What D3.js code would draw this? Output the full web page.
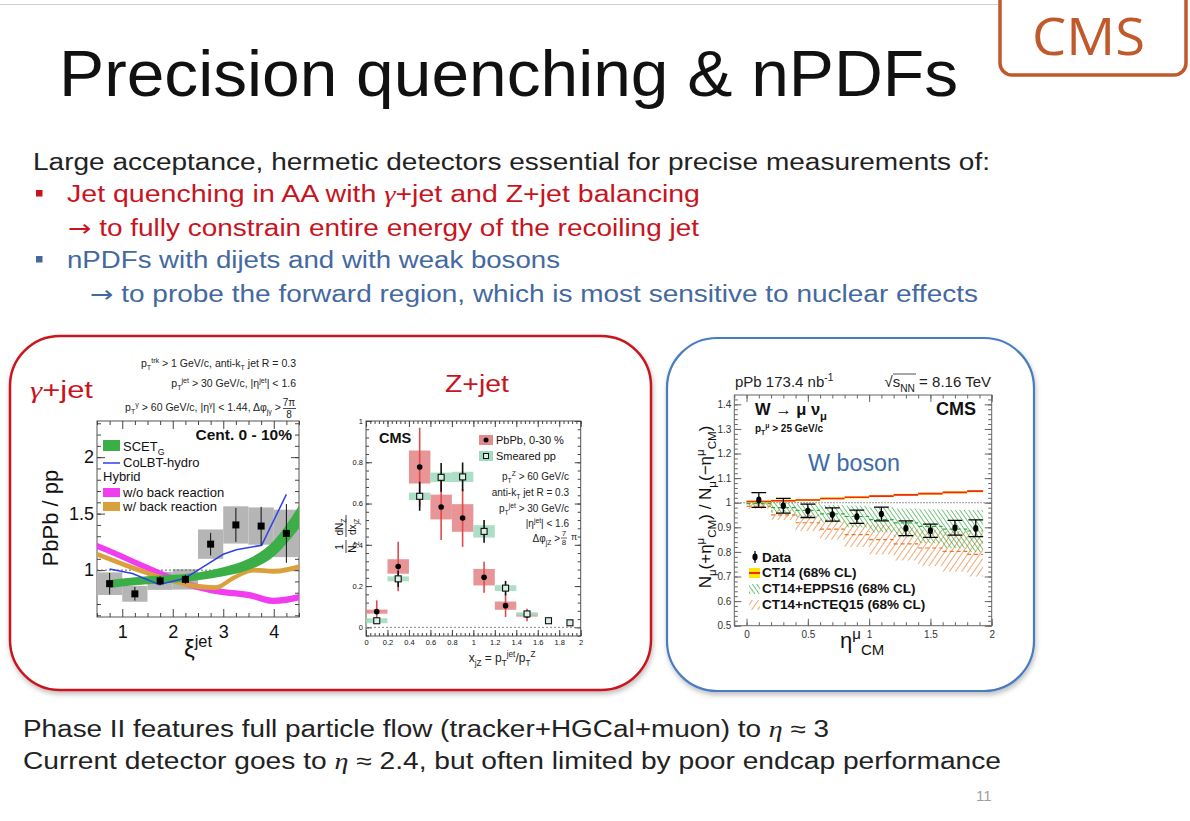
<!DOCTYPE html>
<html>
<head>
<meta charset="utf-8">
<script src="https://cdn.jsdelivr.net/npm/d3@7"></script>
<style>
  body { margin: 0; background: #fff; }
  svg { display: block; }
</style>
</head>
<body>
<div id="chart"></div>
<script>
// --- γ+jet : PbPb/pp vs ξ^jet (Cent. 0-10%)
const gjXi = [0.75, 1.25, 1.75, 2.25, 2.75, 3.25, 3.75, 4.25]
const gjRatio = [0.88, 0.79, 0.905, 0.918, 1.23, 1.40, 1.39, 1.325]
const gjStat = [0.095, 0.06, 0.04, 0.04, 0.10, 0.15, 0.17, 0.26]
const gjSyst = [0.10, 0.07, 0.08, 0.09, 0.13, 0.165, 0.165, 0.21]
const scetXi = [0.75, 1.0, 1.5, 2.0, 2.5, 3.0, 3.5, 4.0, 4.5]
const scetMid = [0.875, 0.89, 0.91, 0.923, 0.945, 0.985, 1.05, 1.19, 1.47]
const scetHalf = [0.035, 0.035, 0.035, 0.035, 0.035, 0.04, 0.05, 0.07, 0.1]
const colbtXi = [0.75, 1.2, 1.73, 2.23, 2.5, 3.0, 3.26, 3.76, 4.25]
const colbtVal = [1.01, 0.97, 0.873, 0.926, 1.0, 1.14, 1.18, 1.22, 1.67]
const hybNoXi = [0.5, 1.0, 1.5, 2.0, 2.5, 3.0, 3.5, 4.0, 4.5]
const hybNoVal = [1.215, 1.12, 1.02, 0.925, 0.85, 0.805, 0.78, 0.728, 0.76]
const hybBrXi = [0.5, 1.0, 1.5, 2.0, 2.5, 2.85, 3.2, 3.6, 4.0, 4.5]
const hybBrVal = [1.14, 1.055, 0.975, 0.905, 0.855, 0.845, 0.93, 1.0, 0.99, 1.03]

// --- Z+jet : 1/N_Z dN/dx_jZ
const zjX = [0.1, 0.3, 0.5, 0.7, 0.9, 1.1, 1.3, 1.5]
const zjPbPb = [0.076, 0.295, 0.777, 0.583, 0.53, 0.243, 0.105, 0.06]
const zjPbPbStat = [0.055, 0.12, 0.19, 0.16, 0.14, 0.075, 0.055, 0.03]
const zjPbPbSyst = [0.01, 0.035, 0.08, 0.06, 0.067, 0.04, 0.02, 0.008]
const zjPpX = [0.1, 0.3, 0.5, 0.7, 0.9, 1.1, 1.3, 1.5, 1.7, 1.9]
const zjPp = [0.032, 0.235, 0.635, 0.727, 0.729, 0.465, 0.19, 0.065, 0.032, 0.022]
const zjPpStat = [0.01, 0.04, 0.07, 0.07, 0.07, 0.055, 0.035, 0.015, 0, 0]
const zjPpSyst = [0.012, 0.012, 0.018, 0.023, 0.025, 0.03, 0.014, 0.008, 0, 0]

// --- W boson : forward/backward ratio vs η_CM
const wEta = [0.1, 0.3, 0.5, 0.7, 0.9, 1.1, 1.3, 1.5, 1.7, 1.87]
const wRatio = [1.011, 0.988, 0.967, 0.952, 0.943, 0.954, 0.896, 0.886, 0.898, 0.896]
const wErr = [0.03, 0.03, 0.027, 0.027, 0.027, 0.028, 0.03, 0.027, 0.03, 0.034]
const wEdges = [0, 0.2, 0.4, 0.6, 0.8, 1.0, 1.2, 1.4, 1.6, 1.8, 1.93]
const ct14 = [1.005, 1.008, 1.011, 1.017, 1.022, 1.027, 1.032, 1.037, 1.042, 1.047]
const eppsHi = [1.004, 1.0, 0.997, 0.99, 0.988, 0.982, 0.976, 0.973, 0.971, 0.97]
const eppsLo = [0.988, 0.96, 0.94, 0.92, 0.90, 0.88, 0.86, 0.835, 0.815, 0.80]
const nctHi = [0.995, 0.972, 0.952, 0.935, 0.92, 0.91, 0.90, 0.89, 0.885, 0.88]
const nctLo = [0.975, 0.93, 0.885, 0.85, 0.82, 0.79, 0.765, 0.742, 0.72, 0.70]

const FONT = "'Liberation Sans', Arial, Helvetica, sans-serif"
const SERIF = "'Liberation Serif', 'DejaVu Serif', serif"
const RED = "#c8141e", BLUE = "#44699f"

const svg = d3.select("#chart").append("svg")
  .attr("width", 1190).attr("height", 821)
  .attr("font-family", FONT)
  .style("background", "#fff")

const defs = svg.append("defs")
const shadow = defs.append("filter").attr("id", "shadow").attr("x", "-5%").attr("y", "-5%").attr("width", "110%").attr("height", "112%")
shadow.append("feDropShadow").attr("dx", 1).attr("dy", 3).attr("stdDeviation", 2.5).attr("flood-color", "#000").attr("flood-opacity", 0.25)

function hatch(id, color, angle, gap) {
  defs.append("pattern").attr("id", id)
    .attr("patternUnits", "userSpaceOnUse").attr("width", gap).attr("height", gap)
    .attr("patternTransform", `rotate(${angle})`)
    .append("line").attr("x1", 0).attr("y1", 0).attr("x2", 0).attr("y2", gap)
    .attr("stroke", color).attr("stroke-width", 1.3)
}
hatch("hatchG", "#2fa83a", -35, 3.6)
hatch("hatchO", "#e8782a", 35, 5)

// texte avec indices / exposants
function rich(sel, parts, fs) {
  let cur = 0
  for (const p of parts) {
    const [s, k] = Array.isArray(p) ? p : [p, ""]
    const off = k === "sup" ? -0.42 * fs : k === "sub" ? 0.3 * fs : 0
    const small = k === "sup" || k === "sub"
    const t = sel.append("tspan").attr("dy", off - cur).attr("font-size", small ? fs * 0.68 : fs).text(s)
    if (k === "it") t.attr("font-family", SERIF).attr("font-style", "italic")
    if (k === "arrow") t.attr("font-family", "'DejaVu Sans', sans-serif")
    cur = off
  }
  return sel
}

function label(parent, x, y, fs, opts = {}) {
  return parent.append("text").attr("x", x).attr("y", y)
    .attr("font-size", fs)
    .attr("fill", opts.fill || "#111")
    .attr("font-weight", opts.bold ? 700 : 400)
    .attr("text-anchor", opts.anchor || "start")
}

// ----- Slide frame -----
svg.append("line").attr("x1", 0).attr("x2", 1057).attr("y1", 4.5).attr("y2", 4.5)
  .attr("stroke", "#cfcfcf").attr("stroke-width", 1)

svg.append("rect").attr("x", 1000).attr("y", -20).attr("width", 186).attr("height", 95).attr("rx", 12)
  .attr("fill", "#fff").attr("stroke", "#c05a2c").attr("stroke-width", 3.5)
svg.append("text").attr("x", 1032).attr("y", 55).attr("font-size", 52)
  .attr("font-family", "'Open Sans', 'Noto Sans', sans-serif")
  .attr("fill", "#c05a2c").attr("textLength", 113).attr("lengthAdjust", "spacingAndGlyphs").text("CMS")

svg.append("text").attr("x", 59).attr("y", 96).attr("font-size", 65).attr("fill", "#111")
  .attr("font-weight", 300).attr("textLength", 899).attr("lengthAdjust", "spacingAndGlyphs")
  .text("Precision quenching & nPDFs")

function slideLine(x, y, len, color, parts) {
  const t = svg.append("text").attr("x", x).attr("y", y).attr("font-size", 23).attr("fill", color)
    .attr("textLength", len).attr("lengthAdjust", "spacingAndGlyphs")
  rich(t, parts, 23)
}
slideLine(33, 170, 957, "#222", ["Large acceptance, hermetic detectors essential for precise measurements of:"])
svg.append("rect").attr("x", 36).attr("y", 190).attr("width", 6.5).attr("height", 6.5).attr("fill", RED)
slideLine(67, 202, 633, RED, ["Jet quenching in AA with ", ["γ", "it"], "+jet and Z+jet balancing"])
slideLine(68, 236, 631, RED, [["→", "arrow"], " to fully constrain entire energy of the recoiling jet"])
svg.append("rect").attr("x", 36).attr("y", 256).attr("width", 6.5).attr("height", 6.5).attr("fill", BLUE)
slideLine(67, 268, 493, BLUE, ["nPDFs with dijets and with weak bosons"])
slideLine(90, 302, 888, BLUE, [["→", "arrow"], " to probe the forward region, which is most sensitive to nuclear effects"])

slideLine(23, 737, 806, "#222", ["Phase II features full particle flow (tracker+HGCal+muon) to ", ["η", "it"], " ≈ 3"])
slideLine(23, 769, 978, "#222", ["Current detector goes to ", ["η", "it"], " ≈ 2.4, but often limited by poor endcap performance"])
svg.append("text").attr("x", 976).attr("y", 801).attr("font-size", 15).attr("fill", "#a0a0a0").text("11")

// panels
svg.append("rect").attr("x", 10).attr("y", 336).attr("width", 641).attr("height", 354).attr("rx", 50)
  .attr("fill", "#fff").attr("stroke", "#c8161d").attr("stroke-width", 2.5).attr("filter", "url(#shadow)")
svg.append("rect").attr("x", 667).attr("y", 338).attr("width", 367).attr("height", 353).attr("rx", 50)
  .attr("fill", "#fff").attr("stroke", "#4a7cc0").attr("stroke-width", 2.2).attr("filter", "url(#shadow)")

// ----- generic ROOT-like frame with inward ticks -----
function frame(x, y, o) {
  const [xl, xr] = x.range(), [yb, yt] = y.range()
  const g = svg.append("g")
  g.append("rect").attr("x", xl).attr("y", yt).attr("width", xr - xl).attr("height", yb - yt)
    .attr("fill", "#fff").attr("stroke", o.frameColor || "#444").attr("stroke-width", 1)
  const styleAx = (s) => s.attr("color", o.tickColor || "#444").attr("font-family", FONT)
    .attr("font-size", o.fs).call((a) => a.select(".domain").remove())
    .call((a) => a.selectAll("text").attr("fill", o.labelColor || "#111"))
  const sides = [
    [d3.axisBottom, yb, true], [d3.axisTop, yt, false],
  ]
  for (const [fn, pos, lab] of sides) {
    g.append("g").attr("transform", `translate(0,${pos})`)
      .call(fn(x).tickValues(o.xMajor).tickSizeInner(-o.major).tickSizeOuter(0).tickPadding(o.padX).tickFormat(lab ? o.xFmt : ""))
      .call(styleAx)
    g.append("g").attr("transform", `translate(0,${pos})`)
      .call(fn(x).tickValues(o.xMinor).tickSizeInner(-o.minor).tickSizeOuter(0).tickFormat(""))
      .call(styleAx)
  }
  for (const [fn, pos, lab] of [[d3.axisLeft, xl, true], [d3.axisRight, xr, false]]) {
    g.append("g").attr("transform", `translate(${pos},0)`)
      .call(fn(y).tickValues(o.yMajor).tickSizeInner(-o.major).tickSizeOuter(0).tickPadding(o.padY).tickFormat(lab ? o.yFmt : ""))
      .call(styleAx)
    g.append("g").attr("transform", `translate(${pos},0)`)
      .call(fn(y).tickValues(o.yMinor).tickSizeInner(-o.minor).tickSizeOuter(0).tickFormat(""))
      .call(styleAx)
  }
  return g
}

function clipped(id, x, y) {
  const [xl, xr] = x.range(), [yb, yt] = y.range()
  defs.append("clipPath").attr("id", id).append("rect")
    .attr("x", xl).attr("y", yt).attr("width", xr - xl).attr("height", yb - yt)
  return svg.append("g").attr("clip-path", `url(#${id})`)
}

const steps = (a, b, s) => d3.range(a, b + s / 2, s).map((v) => +v.toFixed(4))

// ================= γ+jet =================
const gx = d3.scaleLinear().domain([0.5, 4.5]).range([97, 299])
const gy = d3.scaleLinear().domain([0.585, 2.32]).range([617, 421])

frame(gx, gy, {
  xMajor: [1, 2, 3, 4], xMinor: steps(0.5, 4.5, 0.25).filter((v) => v % 1 !== 0),
  yMajor: [1, 1.5, 2], yMinor: steps(0.6, 2.3, 0.1),
  fs: 18, major: 8, minor: 4, padX: 8, padY: 3,
  xFmt: d3.format("d"), yFmt: (d) => String(d), frameColor: "#555",
})

const gPlot = clipped("clipG", gx, gy)
gPlot.selectAll("rect.syst").data(gjXi).join("rect")
  .attr("x", (d) => gx(d - 0.25)).attr("width", gx(0.75) - gx(0.25))
  .attr("y", (d, i) => gy(gjRatio[i] + gjSyst[i]))
  .attr("height", (d, i) => gy(gjRatio[i] - gjSyst[i]) - gy(gjRatio[i] + gjSyst[i]))
  .attr("fill", "#b5b5b5")
gPlot.append("line").attr("x1", gx(0.5)).attr("x2", gx(4.5)).attr("y1", gy(1)).attr("y2", gy(1))
  .attr("stroke", "#666").attr("stroke-dasharray", "2,2")

const band = (xs, ys, half, sx, sy) => d3.area()
  .x((d, i) => sx(xs[i])).y0((d, i) => sy(ys[i] - half(i))).y1((d, i) => sy(ys[i] + half(i)))
  .curve(d3.curveMonotoneX)(xs)

gPlot.append("path").attr("d", band(hybNoXi, hybNoVal, () => 0.028, gx, gy)).attr("fill", "#f23cf0")
gPlot.append("path").attr("d", band(hybBrXi, hybBrVal, () => 0.022, gx, gy)).attr("fill", "#d9a03c")
gPlot.append("path").attr("d", band(scetXi, scetMid, (i) => scetHalf[i], gx, gy)).attr("fill", "#3cae48")
gPlot.append("path")
  .attr("d", d3.line().x((d, i) => gx(colbtXi[i])).y((d) => gy(d))(colbtVal))
  .attr("fill", "none").attr("stroke", "#3140e8").attr("stroke-width", 1.5)

gPlot.selectAll("line.err").data(gjXi).join("line")
  .attr("x1", (d) => gx(d)).attr("x2", (d) => gx(d))
  .attr("y1", (d, i) => gy(gjRatio[i] + gjStat[i])).attr("y2", (d, i) => gy(gjRatio[i] - gjStat[i]))
  .attr("stroke", "#111").attr("stroke-width", 1)
gPlot.selectAll("rect.pt").data(gjXi).join("rect")
  .attr("x", (d) => gx(d) - 3.5).attr("y", (d, i) => gy(gjRatio[i]) - 3.5)
  .attr("width", 7).attr("height", 7).attr("fill", "#000")

// axis titles
label(svg, 0, 0, 22).attr("transform", "translate(58,518) rotate(-90)").attr("text-anchor", "middle").text("PbPb / pp")
rich(label(svg, 184, 657, 24), ["ξ", ["jet", "sup"]], 24)

// header
rich(label(svg, 296, 367, 10.5, { anchor: "end", fill: "#222" }),
  ["p", ["T", "sub"], ["trk", "sup"], " > 1 GeV/c, anti-k", ["T", "sub"], " jet R = 0.3"], 10.5)
rich(label(svg, 296, 387, 10.5, { anchor: "end", fill: "#222" }),
  ["p", ["T", "sub"], ["jet", "sup"], " > 30 GeV/c, |η", ["jet", "sup"], "| < 1.6"], 10.5)
rich(label(svg, 281, 411, 10.5, { anchor: "end", fill: "#222" }),
  ["p", ["T", "sub"], ["γ", "sup"], " > 60 GeV/c, |η", ["γ", "sup"], "| < 1.44, Δφ", ["jγ", "sub"], " >"], 10.5)
label(svg, 289, 406, 10, { anchor: "middle", fill: "#222" }).text("7π")
svg.append("line").attr("x1", 283).attr("x2", 296).attr("y1", 408.5).attr("y2", 408.5).attr("stroke", "#222").attr("stroke-width", 0.8)
label(svg, 289, 418, 10, { anchor: "middle", fill: "#222" }).text("8")

rich(label(svg, 30, 398, 23, { fill: RED }).attr("textLength", 63).attr("lengthAdjust", "spacingAndGlyphs"),
  [["γ", "it"], "+jet"], 23)
label(svg, 292, 440, 15.5, { anchor: "end", bold: true }).text("Cent. 0 - 10%")

// legend
svg.append("rect").attr("x", 103).attr("y", 440).attr("width", 17).attr("height", 11).attr("fill", "#3cae48")
rich(label(svg, 123, 451, 13), ["SCET", ["G", "sub"]], 13)
svg.append("line").attr("x1", 103).attr("x2", 120).attr("y1", 463).attr("y2", 463).attr("stroke", "#3140e8").attr("stroke-width", 1.5)
label(svg, 123, 467, 13).text("CoLBT-hydro")
label(svg, 103, 481, 13).text("Hybrid")
svg.append("rect").attr("x", 103).attr("y", 488).attr("width", 17).attr("height", 9).attr("fill", "#f23cf0")
label(svg, 123, 497, 13).text("w/o back reaction")
svg.append("rect").attr("x", 103).attr("y", 502).attr("width", 17).attr("height", 9).attr("fill", "#d9a03c")
label(svg, 123, 511, 13).text("w/ back reaction")

// ================= Z+jet =================
const zx = d3.scaleLinear().domain([0, 2]).range([366, 580.7])
const zy = d3.scaleLinear().domain([-0.042, 1.0]).range([636, 421])

frame(zx, zy, {
  xMajor: steps(0, 2, 0.2), xMinor: steps(0, 2, 0.04),
  yMajor: steps(0, 1, 0.2), yMinor: steps(-0.04, 1, 0.04),
  fs: 7.5, major: 6, minor: 3, padX: 4, padY: 3,
  xFmt: (d) => String(d), yFmt: (d) => String(d), frameColor: "#555",
})
const zPlot = clipped("clipZ", zx, zy)
zPlot.append("line").attr("x1", zx(0)).attr("x2", zx(2)).attr("y1", zy(0)).attr("y2", zy(0))
  .attr("stroke", "#888").attr("stroke-dasharray", "2,2")
zPlot.selectAll("rect.pb").data(zjX).join("rect")
  .attr("x", (d) => zx(d - 0.1)).attr("width", zx(0.2) - zx(0))
  .attr("y", (d, i) => zy(zjPbPb[i] + zjPbPbSyst[i]))
  .attr("height", (d, i) => zy(zjPbPb[i] - zjPbPbSyst[i]) - zy(zjPbPb[i] + zjPbPbSyst[i]))
  .attr("fill", "#e58a8c").attr("opacity", 0.9)
zPlot.selectAll("rect.pp").data(zjPpX).join("rect")
  .attr("x", (d) => zx(d - 0.1)).attr("width", zx(0.2) - zx(0))
  .attr("y", (d, i) => zy(zjPp[i] + zjPpSyst[i]))
  .attr("height", (d, i) => zy(zjPp[i] - zjPpSyst[i]) - zy(zjPp[i] + zjPpSyst[i]))
  .attr("fill", "#a3dbc0").attr("opacity", 0.9)
zPlot.selectAll("line.pberr").data(zjX).join("line")
  .attr("x1", (d) => zx(d)).attr("x2", (d) => zx(d))
  .attr("y1", (d, i) => zy(zjPbPb[i] + zjPbPbStat[i])).attr("y2", (d, i) => zy(zjPbPb[i] - zjPbPbStat[i]))
  .attr("stroke", "#e04a4c").attr("stroke-width", 1.6)
zPlot.selectAll("line.pperr").data(zjPpX).join("line")
  .attr("x1", (d) => zx(d)).attr("x2", (d) => zx(d))
  .attr("y1", (d, i) => zy(zjPp[i] + zjPpStat[i])).attr("y2", (d, i) => zy(zjPp[i] - zjPpStat[i]))
  .attr("stroke", "#111").attr("stroke-width", 1.6)
zPlot.selectAll("circle.pb").data(zjX).join("circle")
  .attr("cx", (d) => zx(d)).attr("cy", (d, i) => zy(zjPbPb[i])).attr("r", 2.8).attr("fill", "#000")
zPlot.selectAll("rect.ppm").data(zjPpX).join("rect")
  .attr("x", (d) => zx(d) - 3).attr("y", (d, i) => zy(zjPp[i]) - 3).attr("width", 6).attr("height", 6)
  .attr("fill", "#d9f0e4").attr("stroke", "#111").attr("stroke-width", 1.1)

label(svg, 379, 443, 14.5, { bold: true }).text("CMS")
svg.append("rect").attr("x", 479).attr("y", 435).attr("width", 14).attr("height", 10).attr("fill", "#e58a8c")
svg.append("circle").attr("cx", 486).attr("cy", 440).attr("r", 2.5).attr("fill", "#000")
label(svg, 496, 444, 11).text("PbPb, 0-30 %")
svg.append("rect").attr("x", 479).attr("y", 451).attr("width", 14).attr("height", 10).attr("fill", "#a3dbc0")
svg.append("rect").attr("x", 483.5).attr("y", 453.5).attr("width", 5).attr("height", 5).attr("fill", "#d9f0e4").attr("stroke", "#111")
label(svg, 496, 460, 11).text("Smeared pp")

rich(label(svg, 569, 480, 10, { anchor: "end", fill: "#222" }), ["p", ["T", "sub"], ["Z", "sup"], " > 60 GeV/c"], 10)
rich(label(svg, 569, 496, 10, { anchor: "end", fill: "#222" }), ["anti-k", ["T", "sub"], " jet R = 0.3"], 10)
rich(label(svg, 569, 512, 10, { anchor: "end", fill: "#222" }), ["p", ["T", "sub"], ["jet", "sup"], " > 30 GeV/c"], 10)
rich(label(svg, 569, 527, 10, { anchor: "end", fill: "#222" }), ["|η", ["jet", "sup"], "| < 1.6"], 10)
rich(label(svg, 560, 542, 10, { anchor: "end", fill: "#222" }), ["Δφ", ["jZ", "sub"], " >"], 10)
label(svg, 564, 536, 8, { anchor: "middle", fill: "#222" }).text("7")
svg.append("line").attr("x1", 561).attr("x2", 567).attr("y1", 538).attr("y2", 538).attr("stroke", "#222").attr("stroke-width", 0.7)
label(svg, 564, 545, 8, { anchor: "middle", fill: "#222" }).text("8")
label(svg, 571, 540, 9, { fill: "#222" }).text("π")

label(svg, 477, 392, 23, { fill: RED, anchor: "middle" }).attr("textLength", 64).attr("lengthAdjust", "spacingAndGlyphs").text("Z+jet")

rich(label(svg, 502, 662, 12, { anchor: "middle", fill: "#222" }),
  ["x", ["jZ", "sub"], " = p", ["T", "sub"], ["jet", "sup"], "/p", ["T", "sub"], ["Z", "sup"]], 12)

const zt = svg.append("g").attr("transform", "translate(346,531) rotate(-90)")
label(zt, -16, -3, 10, { anchor: "middle" }).text("1")
zt.append("line").attr("x1", -22).attr("x2", -9).attr("y1", 0).attr("y2", 0).attr("stroke", "#111").attr("stroke-width", 0.8)
rich(label(zt, -16, 10, 10, { anchor: "middle" }), ["N", ["Z", "sub"]], 10)
rich(label(zt, 4, -3, 10, { anchor: "middle" }), ["dN", ["Z", "sub"]], 10)
zt.append("line").attr("x1", -6).attr("x2", 16).attr("y1", 0).attr("y2", 0).attr("stroke", "#111").attr("stroke-width", 0.8)
rich(label(zt, 4, 10, 10, { anchor: "middle" }), ["dx", ["jZ", "sub"]], 10)

// ================= W boson =================
const wx = d3.scaleLinear().domain([-0.1, 2.0]).range([734.3, 991.7])
const wy = d3.scaleLinear().domain([0.5, 1.438]).range([625.7, 395])

frame(wx, wy, {
  xMajor: [0, 0.5, 1, 1.5, 2], xMinor: steps(-0.1, 2, 0.1),
  yMajor: steps(0.5, 1.4, 0.1), yMinor: steps(0.5, 1.42, 0.02),
  fs: 10, major: 7, minor: 3.5, padX: 5, padY: 3,
  xFmt: (d) => String(d), yFmt: (d) => String(d), frameColor: "#666", tickColor: "#666", labelColor: "#333",
})
const wPlot = clipped("clipW", wx, wy)
const bins = d3.range(wEdges.length - 1)
const binRect = (sel, hi, lo, fill) => sel.selectAll(null).data(bins).join("rect")
  .attr("x", (i) => wx(wEdges[i])).attr("width", (i) => wx(wEdges[i + 1]) - wx(wEdges[i]))
  .attr("y", (i) => wy(hi(i))).attr("height", (i) => wy(lo(i)) - wy(hi(i)))
  .attr("fill", fill)
const binLine = (sel, val, color, dash, w) => sel.selectAll(null).data(bins).join("line")
  .attr("x1", (i) => wx(wEdges[i])).attr("x2", (i) => wx(wEdges[i + 1]))
  .attr("y1", (i) => wy(val(i))).attr("y2", (i) => wy(val(i)))
  .attr("stroke", color).attr("stroke-width", w).attr("stroke-dasharray", dash)

binRect(wPlot, (i) => nctHi[i], (i) => nctLo[i], "url(#hatchO)")
binLine(wPlot, (i) => (nctHi[i] + nctLo[i]) / 2, "#e8782a", "4,3", 1.2)
binRect(wPlot, (i) => eppsHi[i], (i) => eppsLo[i], "url(#hatchG)")
binLine(wPlot, (i) => (eppsHi[i] + eppsLo[i]) / 2, "#2fa83a", "4,3", 1.2)
wPlot.append("line").attr("x1", wx(-0.1)).attr("x2", wx(2)).attr("y1", wy(1)).attr("y2", wy(1))
  .attr("stroke", "#777").attr("stroke-dasharray", "1.5,1.5")
binRect(wPlot, (i) => ct14[i] + 0.0045, (i) => ct14[i] - 0.0045, "#ffe600")
binLine(wPlot, (i) => ct14[i], "#f0281e", null, 1.6)

wPlot.selectAll("line.werr").data(wEta).join("line")
  .attr("x1", (d) => wx(d)).attr("x2", (d) => wx(d))
  .attr("y1", (d, i) => wy(wRatio[i] + wErr[i])).attr("y2", (d, i) => wy(wRatio[i] - wErr[i]))
  .attr("stroke", "#000").attr("stroke-width", 1.2)
for (const sgn of [1, -1]) {
  wPlot.selectAll(null).data(wEta).join("line")
    .attr("x1", (d) => wx(d - 0.06)).attr("x2", (d) => wx(d + 0.06))
    .attr("y1", (d, i) => wy(wRatio[i] + sgn * wErr[i])).attr("y2", (d, i) => wy(wRatio[i] + sgn * wErr[i]))
    .attr("stroke", "#000").attr("stroke-width", 1.3)
}
wPlot.selectAll("ellipse.wpt").data(wEta).join("ellipse")
  .attr("cx", (d) => wx(d)).attr("cy", (d, i) => wy(wRatio[i])).attr("rx", 2.6).attr("ry", 3.4).attr("fill", "#000")

rich(label(svg, 735, 387, 15, { fill: "#222" }), ["pPb 173.4 nb", ["-1", "sup"]], 15)
rich(label(svg, 991, 387, 15, { fill: "#222", anchor: "end" }), ["√s", ["NN", "sub"], " = 8.16 TeV"], 15)
svg.append("line").attr("x1", 893).attr("x2", 916).attr("y1", 374).attr("y2", 374).attr("stroke", "#222").attr("stroke-width", 0.8)
rich(label(svg, 755, 415, 16.5, { bold: true }), ["W → μ ν", ["μ", "sub"]], 16.5)
label(svg, 976, 415, 18, { bold: true, anchor: "end" }).text("CMS")
rich(label(svg, 755, 432, 10, { bold: true }), ["p", ["T", "sub"], ["μ", "sup"], " > 25 GeV/c"], 10)
label(svg, 808, 471, 23, { fill: "#3d6aa8" }).attr("textLength", 92).attr("lengthAdjust", "spacingAndGlyphs").text("W boson")

// legend
svg.append("line").attr("x1", 755).attr("x2", 755).attr("y1", 551).attr("y2", 563).attr("stroke", "#000").attr("stroke-width", 1.2)
svg.append("ellipse").attr("cx", 755).attr("cy", 557).attr("rx", 2.6).attr("ry", 3.4).attr("fill", "#000")
label(svg, 762, 562, 13.5, { bold: true }).text("Data")
svg.append("rect").attr("x", 749).attr("y", 568).attr("width", 11).attr("height", 10).attr("fill", "#ffe600")
svg.append("line").attr("x1", 749).attr("x2", 760).attr("y1", 573).attr("y2", 573).attr("stroke", "#f0281e").attr("stroke-width", 2)
label(svg, 762, 577, 13.5, { bold: true }).text("CT14 (68% CL)")
svg.append("rect").attr("x", 749).attr("y", 584).attr("width", 11).attr("height", 10).attr("fill", "url(#hatchG)")
label(svg, 762, 593, 13.5, { bold: true }).text("CT14+EPPS16 (68% CL)")
svg.append("rect").attr("x", 749).attr("y", 600).attr("width", 11).attr("height", 10).attr("fill", "url(#hatchO)")
label(svg, 762, 609, 13.5, { bold: true }).text("CT14+nCTEQ15 (68% CL)")

// axis titles
rich(label(svg, 0, 0, 17, { anchor: "middle" }).attr("transform", "translate(711,507) rotate(-90)"),
  ["N", ["μ", "sub"], "(+η", ["μ", "sup"], ["CM", "sub"], ") / N", ["μ", "sub"], "(−η", ["μ", "sup"], ["CM", "sub"], ")"], 17)
rich(label(svg, 840, 648, 22), ["η", ["μ", "sup"], ["CM", "sub"]], 22)
</script>
</body>
</html>
